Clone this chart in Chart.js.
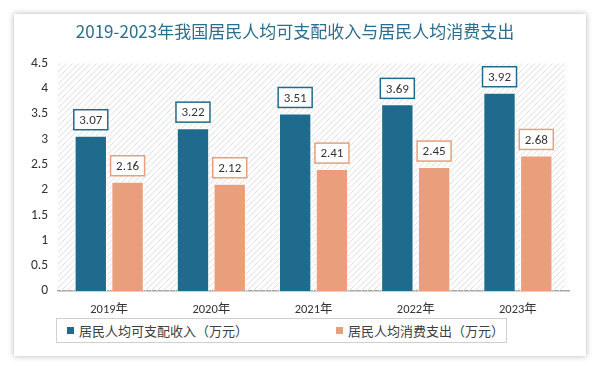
<!DOCTYPE html>
<html>
<head>
<meta charset="utf-8">
<script src="https://cdn.jsdelivr.net/npm/chart.js@4"></script>
<style>
  body { margin: 0; background: #fff; font-family: "Noto Sans CJK SC", sans-serif; }
  .card { position: absolute; left: 14px; top: 14px; width: 572px; height: 342px;
          background: #fff; box-shadow: 0 0 6px rgba(0,0,0,0.3); }
  .plot { position: absolute; left: 0; top: 0; width: 572px; height: 314px; }
  .legend { position: absolute; left: 42px; top: 304px; width: 451px; height: 25px;
            border: 1px solid #d0d0d0; box-sizing: border-box; display: flex; align-items: center;
            font-size: 13px; color: #404040; background: #fff; }
  .legend span.item { display: flex; align-items: center; }
  .legend i { display: inline-block; width: 7px; height: 7px; margin-right: 5px; }
</style>
</head>
<body>
<div class="card">
  <div class="plot"><canvas id="chartBar"></canvas></div>
  <div class="legend" id="legend"></div>
</div>
<script>
const years = ["2019年", "2020年", "2021年", "2022年", "2023年"];
const income = [3.07, 3.22, 3.51, 3.69, 3.92];
const spending = [2.16, 2.12, 2.41, 2.45, 2.68];
const seriesNames = ["居民人均可支配收入（万元）", "居民人均消费支出（万元）"];
const seriesColors = ["#1f6b8d", "#e99e7c"];

// hatched background for the plot area
function makeHatch() {
  const c = document.createElement("canvas");
  c.width = 6; c.height = 6;
  const g = c.getContext("2d");
  g.strokeStyle = "#e0e0e0";
  g.lineWidth = 1;
  g.beginPath();
  g.moveTo(0, 6); g.lineTo(6, 0);
  g.moveTo(-1, 1); g.lineTo(1, -1);
  g.moveTo(5, 7); g.lineTo(7, 5);
  g.stroke();
  return c;
}

const hatchBg = {
  id: "hatchBg",
  beforeDatasetsDraw(chart) {
    const { ctx, chartArea: a } = chart;
    ctx.save();
    ctx.fillStyle = ctx.createPattern(makeHatch(), "repeat");
    ctx.fillRect(a.left, a.top, a.right - a.left - 4, a.bottom - a.top);
    ctx.restore();
  }
};

// boxed value labels above each bar
const boxLabels = {
  id: "boxLabels",
  afterDatasetsDraw(chart) {
    const ctx = chart.ctx;
    ctx.save();
    ctx.font = "13px Calibri, Carlito, 'Liberation Sans', sans-serif";
    ctx.textAlign = "center";
    ctx.textBaseline = "middle";
    chart.data.datasets.forEach((ds, i) => {
      chart.getDatasetMeta(i).data.forEach((bar, j) => {
        const txt = ds.data[j].toFixed(2);
        const w = 34, h = 20;
        const x = bar.x, y = bar.y - 6 - h / 2;
        ctx.fillStyle = "#fff";
        ctx.fillRect(x - w / 2, y - h / 2, w, h);
        ctx.strokeStyle = seriesColors[i];
        ctx.lineWidth = 1.5;
        ctx.strokeRect(x - w / 2, y - h / 2, w, h);
        ctx.fillStyle = "#333";
        ctx.fillText(txt, x, y + 1);
      });
    });
    ctx.restore();
  }
};

const chartBar = new Chart("chartBar", {
  type: "bar",
  data: {
    labels: years,
    datasets: [
      { label: seriesNames[0], data: income, backgroundColor: seriesColors[0],
        borderColor: "rgba(255,255,255,0.9)", borderWidth: 1 },
      { label: seriesNames[1], data: spending, backgroundColor: seriesColors[1],
        borderColor: "rgba(255,255,255,0.9)", borderWidth: 1 },
    ],
  },
  options: {
    responsive: true,
    maintainAspectRatio: false,
    animation: false,
    layout: { padding: { left: 7, right: 17, top: 0, bottom: 0 } },
    datasets: { bar: { categoryPercentage: 0.72, barPercentage: 0.88 } },
    plugins: {
      legend: { display: false },
      tooltip: { enabled: false },
      title: {
        display: true,
        text: "2019-2023年我国居民人均可支配收入与居民人均消费支出",
        color: "#2b6e8e",
        font: { size: 17, family: "'Noto Sans CJK SC', sans-serif", weight: "normal" },
        padding: { top: 7, bottom: 22 },
      },
    },
    scales: {
      x: {
        grid: { display: false, drawTicks: false },
        border: { color: "#a6a6a6", width: 1.5 },
        ticks: { color: "#333", padding: 11,
                 font: { size: 12.5, family: "Calibri, Carlito, 'Noto Sans CJK SC', sans-serif" } },
      },
      y: {
        min: 0, max: 4.5,
        grid: { display: false, drawTicks: false },
        border: { display: false },
        ticks: { stepSize: 0.5, color: "#333", padding: 10,
                 callback: (v) => String(Number(v)),
                 font: { size: 13.5, family: "Calibri, Carlito, 'Liberation Sans', sans-serif" } },
      },
    },
  },
  plugins: [hatchBg, boxLabels],
});

// legend box under the chart
const legendEl = document.getElementById("legend");
seriesNames.forEach((name, i) => {
  const s = document.createElement("span");
  s.className = "item";
  s.style.marginLeft = i === 0 ? "10px" : "88px";
  s.innerHTML = '<i style="background:' + seriesColors[i] + '"></i>' + name;
  legendEl.appendChild(s);
});
</script>
</body>
</html>
